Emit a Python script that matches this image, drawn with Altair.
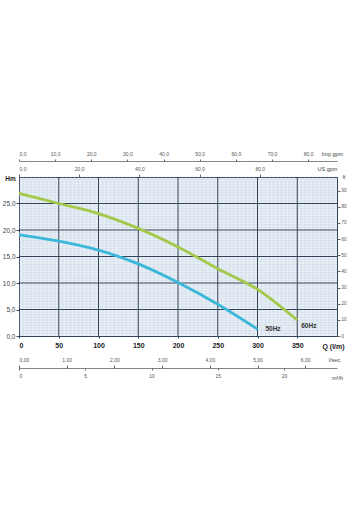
import altair as alt
import pandas as pd
import numpy as np

# ---- data ----
q50 = [0, 50, 100, 150, 200, 250, 300]
h50 = [19.1, 17.9, 16.2, 13.6, 10.1, 6.0, 1.3]
q60 = [0, 50, 100, 150, 200, 250, 300, 350]
h60 = [26.9, 25.0, 23.1, 20.3, 16.8, 12.7, 8.8, 3.0]

q_ticks = [0, 50, 100, 150, 200, 250, 300, 350]
h_ticks = [0, 5, 10, 15, 20, 25]
imp_ticks = [0, 10, 20, 30, 40, 50, 60, 70, 80]
us_ticks = [0, 20, 40, 60, 80]
lsec_ticks = [0, 1, 2, 3, 4, 5, 6]
m3h_ticks = [0, 5, 10, 15, 20]
ft_ticks = [0, 10, 20, 30, 40, 50, 60, 70, 80, 90]

Q_MAX = 400
H_MAX = 30

W, H = 318, 159
FONT = "Liberation Sans"
DARK = "#34425a"
MINOR = "#c9d6e5"
LABEL = "#555555"

curves = pd.DataFrame({
    "Q": q50 + q60,
    "H": h50 + h60,
    "serie": ["50Hz"] * len(q50) + ["60Hz"] * len(q60),
})
curve_labels = pd.DataFrame({"Q": [310, 355], "H": [1.3, 1.9], "t": ["50Hz", "60Hz"]})

minor_x = pd.DataFrame({"v": [v for v in range(5, Q_MAX, 5) if v % 50 != 0]})
minor_y = pd.DataFrame({"v": [v / 2 for v in range(1, H_MAX * 2) if v % 10 != 0]})
major_x = pd.DataFrame({"v": q_ticks[1:]})
major_y = pd.DataFrame({"v": h_ticks[1:]})


def xs():
    return alt.Scale(domain=[0, Q_MAX], nice=False, zero=False)


def ys():
    return alt.Scale(domain=[0, H_MAX], nice=False, zero=False)


comma1 = "replace(format(datum.value, '.1f'), '.', ',')"
comma2 = "replace(format(datum.value, '.2f'), '.', ',')"

grid_x = alt.Chart(minor_x).mark_rule(color=MINOR, strokeWidth=0.5).encode(
    x=alt.X("v:Q", scale=xs(), axis=None))
grid_y = alt.Chart(minor_y).mark_rule(color=MINOR, strokeWidth=0.5).encode(
    y=alt.Y("v:Q", scale=ys(), axis=None))
maj_x = alt.Chart(major_x).mark_rule(color=DARK, strokeWidth=1).encode(
    x=alt.X("v:Q", scale=xs(), axis=None))
maj_y = alt.Chart(major_y).mark_rule(color=DARK, strokeWidth=1).encode(
    y=alt.Y("v:Q", scale=ys(), axis=None))

lines = alt.Chart(curves).mark_line(strokeWidth=2.8, interpolate="monotone").encode(
    x=alt.X("Q:Q", scale=xs(), axis=alt.Axis(
        orient="bottom", values=q_ticks, grid=False, domain=False,
        tickSize=2, tickColor=DARK, labelFont=FONT, labelFontSize=7,
        labelFontWeight="bold", labelColor="#222", labelPadding=3,
        title="Q (l/m)", titleX=314, titleY=10, titleAngle=0, titleAlign="center",
        titleBaseline="middle", titleFont=FONT, titleFontSize=7,
        titleFontWeight="bold", titleColor="#222")),
    y=alt.Y("H:Q", scale=ys(), axis=alt.Axis(
        orient="left", values=h_ticks, grid=False, domain=False,
        tickSize=3, tickColor=DARK, labelExpr=comma1, labelFont=FONT,
        labelFontSize=6.5, labelColor="#444", labelPadding=1,
        title="Hm", titleX=-9, titleY=1, titleAngle=0, titleAlign="center",
        titleBaseline="middle", titleFont=FONT, titleFontSize=6.5,
        titleFontWeight="bold", titleColor="#222")),
    color=alt.Color("serie:N", scale=alt.Scale(domain=["50Hz", "60Hz"],
                                               range=["#3bb8d9", "#a3c84a"]), legend=None),
)

txt = alt.Chart(curve_labels).mark_text(font=FONT, fontSize=6.5, fontWeight="bold",
                                        color="#333", align="left", baseline="middle").encode(
    x=alt.X("Q:Q", scale=xs(), axis=None), y=alt.Y("H:Q", scale=ys(), axis=None), text="t:N")


def sec_axis(ticks, dmax, axis):
    df = pd.DataFrame({"v": ticks})
    return alt.Chart(df).mark_point(opacity=0).encode(
        x=alt.X("v:Q", scale=alt.Scale(domain=[0, dmax], nice=False, zero=False), axis=axis))


small = dict(labelFont=FONT, labelFontSize=5, labelColor=LABEL, tickColor="#666",
             domainColor="#666", titleFont=FONT, titleFontSize=5.5, titleColor="#444",
             titleFontWeight="normal", titleAngle=0, titleAlign="center",
             titleBaseline="middle", grid=False)

imp = sec_axis(imp_ticks, Q_MAX / 4.54609, alt.Axis(
    orient="top", offset=16, values=imp_ticks, labelExpr=comma1, tickSize=2,
    labelPadding=3, domain=True, domainWidth=0.8, title="Imp gpm", titleX=313, titleY=-8, **small))
us = sec_axis(us_ticks, Q_MAX / 3.78541, alt.Axis(
    orient="top", offset=0, values=us_ticks, labelExpr=comma1, tickSize=3,
    labelPadding=3, domain=False, title="US gpm", titleX=308, titleY=-9, **small))
lsec = sec_axis(lsec_ticks, Q_MAX / 60.0, alt.Axis(
    orient="top", offset=-191, values=lsec_ticks, labelExpr=comma2, tickSize=3,
    labelPadding=3, domain=True, domainWidth=0.8, title="l/sec", titleX=315, titleY=-9, **small))
m3h = sec_axis(m3h_ticks, Q_MAX * 60 / 1000.0, alt.Axis(
    orient="bottom", offset=32, values=m3h_ticks, format="d", tickSize=2,
    labelPadding=3, domain=False, title="m³/h", titleX=318, titleY=9, **small))

ft = alt.Chart(pd.DataFrame({"v": ft_ticks})).mark_point(opacity=0).encode(
    y=alt.Y("v:Q", scale=alt.Scale(domain=[0, H_MAX * 3.28084], nice=False, zero=False),
            axis=alt.Axis(orient="right", values=ft_ticks, tickSize=3, labelPadding=1,
                          domain=False, title="ft", titleX=5, titleY=-1,
                          **{**small, "titleAlign": "left", "labelFontSize": 4.5})))

chart = alt.layer(grid_x, grid_y, maj_x, maj_y, lines, txt, imp, us, lsec, m3h, ft).resolve_scale(
    x="independent", y="independent").resolve_axis(x="independent", y="independent").properties(
    width=W, height=H,
    autosize=alt.AutoSizeParams(type="none"),
    padding={"left": 19, "top": 177, "right": 13, "bottom": 194},
    background="white",
).configure_view(fill="#eaf0f7", stroke=DARK, strokeWidth=1)

chart.save("out.html", embed_options={"renderer": "svg", "actions": False})
